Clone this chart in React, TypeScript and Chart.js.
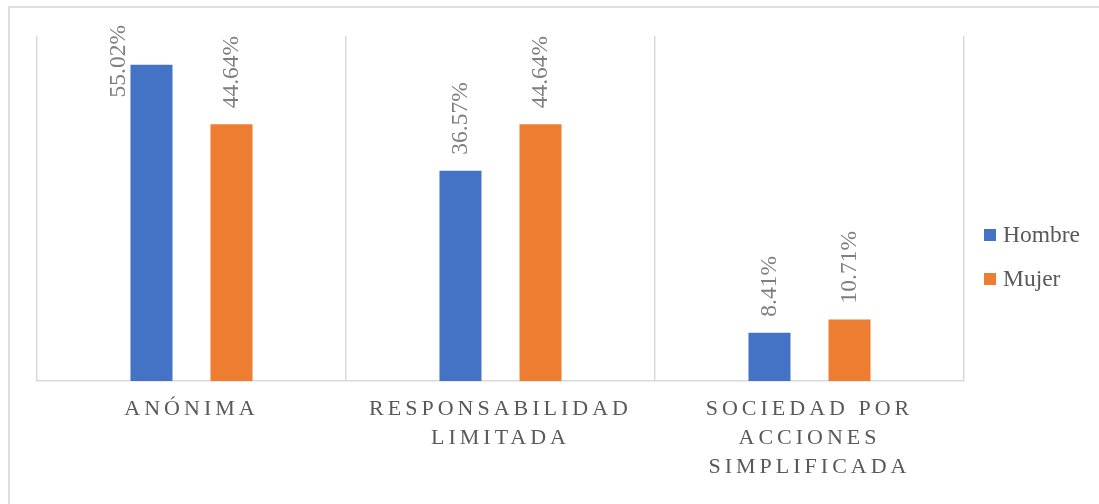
import React, { useEffect, useRef } from 'react';
import { Chart, registerables } from 'chart.js';

Chart.register(...registerables);

const categories: string[][] = [
  ['ANÓNIMA'],
  ['RESPONSABILIDAD', 'LIMITADA'],
  ['SOCIEDAD POR', 'ACCIONES', 'SIMPLIFICADA'],
];
const seriesNames = ['Hombre', 'Mujer'];
const hombre = [55.02, 36.57, 8.41];
const mujer = [44.64, 44.64, 10.71];
const seriesColors = ['#4472C4', '#ED7D31'];
const yMax = 60;

const FONT = "'Liberation Serif', 'Times New Roman', serif";

const customPlugin = {
  id: 'customDraw',
  afterDatasetsDraw(chart: any) {
    const ctx = chart.ctx as CanvasRenderingContext2D;
    const area = chart.chartArea;
    ctx.save();
    ctx.font = `23.5px ${FONT}`;
    ctx.fillStyle = '#7f7f7f';
    ctx.textBaseline = 'middle';
    ctx.textAlign = 'left';
    chart.data.datasets.forEach((ds: any, di: number) => {
      const meta = chart.getDatasetMeta(di);
      meta.data.forEach((bar: any, i: number) => {
        const text = Number(ds.data[i]).toFixed(2) + '%';
        const w = ctx.measureText(text).width;
        const p = bar.getProps(['x', 'y', 'width'], true);
        let x = p.x;
        let yb = p.y - 16;
        if (yb - w < 4) {
          x = p.x - p.width / 2 - 12;
          yb = area.top - 11 + w;
        }
        ctx.save();
        ctx.translate(x, yb);
        ctx.rotate(-Math.PI / 2);
        ctx.fillText(text, 0, 0);
        ctx.restore();
      });
    });
    ctx.restore();
    (ctx as any).letterSpacing = '4px';
  },
  afterDraw(chart: any) {
    const ctx = chart.ctx as CanvasRenderingContext2D;
    (ctx as any).letterSpacing = '0px';
    const area = chart.chartArea;
    const cy = chart.height / 2;
    ctx.save();
    ctx.font = `23.5px ${FONT}`;
    ctx.textBaseline = 'middle';
    ctx.textAlign = 'left';
    chart.data.datasets.forEach((ds: any, di: number) => {
      const y = cy - 21 + di * 44;
      ctx.fillStyle = ds.backgroundColor;
      ctx.fillRect(area.right + 20, y - 6, 12, 12);
      ctx.fillStyle = '#595959';
      ctx.fillText(ds.label, area.right + 39, y + 1);
    });
    ctx.restore();
  },
};

export default function App() {
  const canvasRef = useRef<HTMLCanvasElement | null>(null);

  useEffect(() => {
    if (!canvasRef.current) return;
    const chart = new Chart(canvasRef.current, {
      type: 'bar',
      data: {
        labels: categories,
        datasets: [
          {
            label: seriesNames[0],
            data: hombre,
            backgroundColor: seriesColors[0],
            categoryPercentage: 0.518,
            barPercentage: 0.525,
          },
          {
            label: seriesNames[1],
            data: mujer,
            backgroundColor: seriesColors[1],
            categoryPercentage: 0.518,
            barPercentage: 0.525,
          },
        ],
      },
      options: {
        responsive: false,
        animation: false,
        layout: { padding: { left: 27, top: 28, right: 135, bottom: 0 } },
        plugins: {
          legend: { display: false },
          tooltip: { enabled: false },
        },
        scales: {
          x: {
            grid: {
              offset: true,
              color: '#d9d9d9',
              lineWidth: 1.5,
              drawTicks: false,
            },
            border: { color: '#d9d9d9', width: 1.5 },
            ticks: {
              z: 1,
              padding: 14,
              color: '#595959',
              maxRotation: 0,
              autoSkip: false,
              font: { family: FONT, size: 22, lineHeight: '29px' },
            },
            afterFit(scale: any) {
              scale.height = 123;
            },
          },
          y: {
            display: false,
            min: 0,
            max: yMax,
          },
        },
      },
      plugins: [customPlugin],
    });
    return () => chart.destroy();
  }, []);

  return (
    <div
      style={{
        position: 'fixed',
        left: 8,
        top: 6,
        width: 1200,
        height: 600,
        border: '2px solid #dedede',
        overflow: 'hidden',
        background: '#fff',
      }}
    >
      <canvas
        ref={canvasRef}
        width={1089}
        height={496}
        style={{ display: 'block', width: 1089, height: 496 }}
      />
    </div>
  );
}
